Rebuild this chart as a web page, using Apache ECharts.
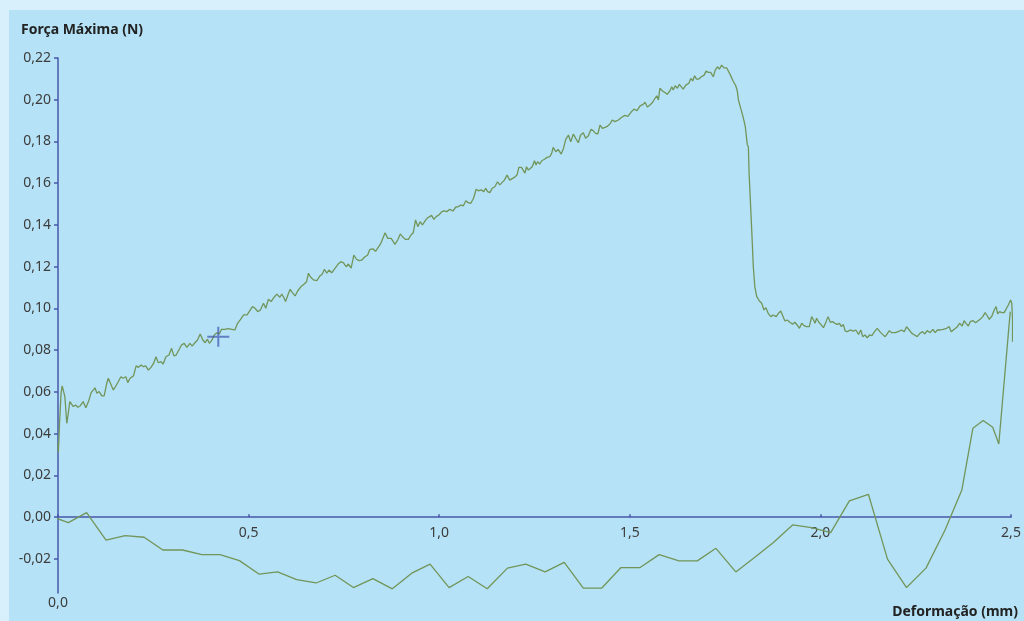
<!DOCTYPE html>
<html>
<head>
<meta charset="utf-8">
<script src="https://cdn.jsdelivr.net/npm/echarts@6/dist/echarts.min.js"></script>
<style>
html,body{margin:0;padding:0;background:#d8f0fb;}
#chart{width:1024px;height:621px;}
</style>
</head>
<body>
<div id="chart"></div>
<script>
// Axis ticks
const yTicks = [-0.02, 0, 0.02, 0.04, 0.06, 0.08, 0.10, 0.12, 0.14, 0.16, 0.18, 0.20, 0.22];
const xTicks = [0, 0.5, 1.0, 1.5, 2.0, 2.5];
const yTitle = 'Força Máxima (N)';
const xTitle = 'Deformação (mm)';

// Loading curve (deformation mm, force N)
const loadCurve = [
[0.000,0.0354],[0.001,0.031],[0.004,0.045],[0.008,0.0594],[0.011,0.0629],[0.016,0.0626],[0.018,0.0578],[0.023,0.045],[0.027,0.0498],[0.031,0.0554],[0.036,0.0562],[0.040,0.053],[0.046,0.0538],[0.052,0.0527],[0.058,0.0533],[0.066,0.0554],[0.073,0.0525],[0.080,0.0554],[0.087,0.0597],[0.092,0.059],[0.097,0.062],[0.102,0.0594],[0.108,0.0602],[0.115,0.0581],[0.121,0.0581],[0.128,0.0642],[0.132,0.0666],[0.137,0.0658],[0.145,0.061],[0.151,0.0626],[0.158,0.0649],[0.165,0.0673],[0.171,0.0666],[0.178,0.0673],[0.183,0.0645],[0.189,0.0666],[0.198,0.0677],[0.205,0.0725],[0.211,0.0718],[0.218,0.0729],[0.224,0.0721],[0.230,0.0725],[0.237,0.0705],[0.244,0.0718],[0.251,0.0738],[0.257,0.0769],[0.263,0.074],[0.270,0.0745],[0.276,0.0734],[0.283,0.0769],[0.291,0.0777],[0.298,0.0809],[0.304,0.0773],[0.310,0.0777],[0.317,0.0801],[0.324,0.0825],[0.331,0.0833],[0.338,0.0814],[0.346,0.0833],[0.352,0.082],[0.359,0.0836],[0.366,0.0849],[0.373,0.0878],[0.380,0.0849],[0.386,0.0836],[0.392,0.0853],[0.397,0.0833],[0.403,0.0846],[0.410,0.0873],[0.417,0.0884],[0.423,0.0878],[0.429,0.09],[0.438,0.09],[0.447,0.0903],[0.456,0.09],[0.464,0.0897],[0.471,0.0929],[0.478,0.0945],[0.487,0.0969],[0.496,0.0969],
[0.501,0.0974],[0.510,0.1009],[0.517,0.1001],[0.524,0.0985],[0.531,0.0993],[0.539,0.1025],[0.545,0.1001],[0.552,0.1044],[0.559,0.1033],[0.567,0.1054],[0.574,0.1069],[0.582,0.1054],[0.587,0.1069],[0.592,0.1054],[0.597,0.1033],[0.603,0.1065],[0.609,0.1092],[0.615,0.1076],[0.622,0.106],[0.629,0.1085],[0.637,0.1104],[0.646,0.1117],[0.652,0.1128],[0.657,0.1169],[0.662,0.1152],[0.670,0.1137],[0.679,0.1133],[0.687,0.1156],[0.693,0.1164],[0.699,0.1188],[0.705,0.1169],[0.711,0.1184],[0.718,0.1171],[0.727,0.1193],[0.735,0.1213],[0.742,0.1224],[0.749,0.1219],[0.756,0.12],[0.762,0.1213],[0.769,0.1193],[0.776,0.1256],[0.783,0.1236],[0.790,0.1229],[0.797,0.1232],[0.805,0.1248],[0.812,0.1255],[0.818,0.1283],[0.826,0.1286],[0.833,0.1274],[0.840,0.1293],[0.847,0.1312],[0.851,0.1304],[0.858,0.1363],[0.865,0.1336],[0.874,0.1336],[0.884,0.1307],[0.891,0.1328],[0.898,0.1357],[0.905,0.1341],[0.912,0.1331],[0.919,0.1331],[0.926,0.1352],[0.932,0.1363],[0.938,0.1424],[0.944,0.1392],[0.950,0.1416],[0.956,0.14],[0.963,0.142],[0.968,0.1432],[0.973,0.144],[0.980,0.1446],[0.986,0.1427],[0.992,0.144],[0.999,0.1448],[1.007,0.1464],[1.013,0.1468],[1.020,0.1464],
[1.028,0.1475],[1.036,0.1467],[1.043,0.1485],[1.050,0.1488],[1.057,0.1496],[1.063,0.1491],[1.070,0.1516],[1.076,0.1507],[1.083,0.1504],[1.090,0.1528],[1.097,0.1571],[1.103,0.1564],[1.110,0.1568],[1.117,0.156],[1.122,0.1576],[1.127,0.156],[1.133,0.1555],[1.139,0.1576],[1.146,0.1583],[1.153,0.1607],[1.159,0.1592],[1.164,0.1583],[1.171,0.1615],[1.178,0.1639],[1.185,0.1615],[1.190,0.1612],[1.197,0.1628],[1.204,0.1639],[1.209,0.1676],[1.216,0.1676],[1.221,0.1671],[1.225,0.1648],[1.229,0.1679],[1.234,0.1663],[1.238,0.1655],[1.244,0.1679],[1.250,0.1708],[1.254,0.1687],[1.258,0.1703],[1.264,0.1692],[1.269,0.1708],[1.276,0.1715],[1.283,0.1724],[1.290,0.1727],[1.295,0.1743],[1.299,0.1772],[1.306,0.1751],[1.312,0.1762],[1.320,0.174],[1.326,0.1767],[1.332,0.181],[1.339,0.1831],[1.345,0.1799],[1.352,0.1836],[1.358,0.1815],[1.365,0.1794],[1.371,0.1831],[1.378,0.1842],[1.384,0.1815],[1.391,0.1826],[1.398,0.1858],[1.404,0.1852],[1.410,0.1839],[1.416,0.1836],[1.422,0.1879],[1.428,0.1863],[1.435,0.1868],[1.442,0.1874],[1.449,0.1887],[1.454,0.1903],[1.461,0.1895],[1.470,0.1903],
[1.478,0.1915],[1.487,0.1925],[1.495,0.1920],[1.503,0.1940],[1.511,0.1955],[1.519,0.1948],
[1.527,0.1971],[1.535,0.1978],[1.540,0.1988],[1.546,0.1965],[1.553,0.1975],[1.560,0.1988],[1.566,0.2007],[1.571,0.2019],[1.575,0.1999],[1.579,0.2055],[1.586,0.2042],[1.592,0.2035],[1.598,0.2026],[1.605,0.2042],[1.610,0.2062],[1.614,0.2047],[1.619,0.2067],[1.625,0.2055],[1.630,0.2074],[1.635,0.2067],[1.640,0.2051],[1.647,0.207],[1.655,0.2079],[1.660,0.2102],[1.665,0.209],[1.670,0.2115],[1.675,0.2099],[1.681,0.2099],[1.688,0.211],[1.695,0.2118],[1.700,0.2137],[1.706,0.2131],[1.712,0.2131],[1.719,0.211],[1.724,0.2142],[1.730,0.2158],[1.735,0.2147],[1.741,0.2166],[1.747,0.2153],[1.754,0.2153],[1.758,0.215],[1.764,0.2118],[1.771,0.209],[1.778,0.2067],[1.782,0.2042],[1.785,0.1999],[1.791,0.1959],[1.797,0.1919],[1.803,0.1871],[1.808,0.1786],[1.811,0.1775],[1.813,0.1647],[1.817,0.1488],[1.821,0.1328],[1.824,0.12],[1.828,0.1104],
[1.833,0.1057],[1.840,0.1036],[1.846,0.1025],[1.852,0.0993],[1.857,0.1004],[1.863,0.0977],[1.870,0.0961],[1.876,0.0969],[1.884,0.0961],[1.890,0.0977],[1.896,0.0988],[1.901,0.0985],[1.907,0.094],[1.913,0.0945],[1.920,0.0934],[1.927,0.0924],[1.933,0.0934],[1.939,0.0921],[1.945,0.0905],[1.951,0.0929],[1.957,0.0918],[1.964,0.0913],[1.971,0.0913],[1.977,0.0961],[1.982,0.0945],[1.986,0.0929],[1.990,0.0953],[1.996,0.0934],[2.001,0.0924],[2.008,0.0908],[2.015,0.0937],[2.020,0.0961],[2.026,0.0934],[2.032,0.0937],[2.038,0.0929],[2.044,0.0924],[2.050,0.0929],[2.055,0.0913],[2.060,0.0924],[2.065,0.0892],[2.071,0.0889],[2.078,0.0897],[2.086,0.0892],[2.093,0.0897],[2.100,0.0876],[2.106,0.0897],[2.111,0.0865],[2.117,0.0873],[2.123,0.086],[2.129,0.0873],[2.135,0.087],[2.142,0.0889],[2.149,0.0905],[2.156,0.0889],[2.163,0.0876],[2.170,0.0865],
[2.181,0.0894],[2.187,0.0884],[2.196,0.0884],[2.204,0.0889],[2.213,0.0897],[2.220,0.0889],[2.226,0.0913],[2.233,0.0897],[2.240,0.0881],[2.247,0.0873],[2.254,0.0865],[2.261,0.0881],[2.268,0.0889],[2.274,0.0878],[2.280,0.0894],[2.288,0.0884],[2.295,0.09],[2.301,0.0884],[2.307,0.0897],[2.314,0.0897],[2.322,0.09],[2.331,0.0905],[2.338,0.0913],[2.343,0.0889],[2.351,0.09],[2.358,0.091],[2.365,0.0929],[2.372,0.0916],[2.377,0.0942],[2.382,0.0929],[2.388,0.0916],[2.393,0.0937],[2.400,0.0942],[2.407,0.0932],[2.412,0.0929],[2.419,0.0948],[2.426,0.0961],[2.432,0.098],[2.438,0.0964],[2.443,0.0948],[2.450,0.0964],[2.456,0.0993],[2.461,0.1009],[2.465,0.0974],[2.470,0.0985],[2.476,0.098],[2.482,0.098],[2.487,0.0985],[2.493,0.1017],[2.499,0.1041],[2.502,0.1025],[2.504,0.0948],[2.504,0.0841]
];

// Return curve (drawn from right to left)
const returnCurve = [
[2.498,0.0985],[2.468,0.0351],[2.452,0.0431],[2.427,0.0463],[2.400,0.0426],[2.371,0.013],[2.327,-0.0061],[2.277,-0.0244],[2.226,-0.0337],[2.176,-0.0201],[2.126,0.011],[2.076,0.0078],[2.027,-0.0074],[1.977,-0.005],[1.927,-0.0037],[1.876,-0.0122],[1.828,-0.0192],[1.778,-0.0262],[1.726,-0.0149],[1.677,-0.0209],[1.629,-0.0209],[1.577,-0.0179],[1.527,-0.0241],[1.477,-0.0241],[1.426,-0.034],[1.378,-0.034],[1.328,-0.0216],[1.278,-0.0262],[1.227,-0.0225],[1.179,-0.0244],[1.126,-0.0343],[1.076,-0.0284],[1.026,-0.0337],[0.976,-0.0225],[0.928,-0.0268],[0.877,-0.0343],[0.826,-0.0294],[0.775,-0.0337],[0.727,-0.0278],[0.677,-0.0315],[0.626,-0.0299],[0.576,-0.0262],[0.528,-0.0273],[0.476,-0.0208],[0.425,-0.0179],[0.377,-0.0179],[0.327,-0.0157],[0.275,-0.0157],[0.226,-0.0096],[0.176,-0.0088],[0.126,-0.011],[0.075,0.0022],[0.027,-0.0026],[-0.021,0.0006],[-0.091,-0.0048]
];

// Cursor marker
const cursorPoint = [[0.4205, 0.0865]];

const axisBlue = '#4858aa';
const lineGreen = '#72955a';
const labelColor = '#3c3c3c';
const fmtY = v => v.toFixed(2).replace('.', ',');
const fmtX = v => v.toFixed(1).replace('.', ',');

const chart = echarts.init(document.getElementById('chart'), null, {renderer: 'canvas'});
chart.setOption({
  backgroundColor: '#d8f0fb',
  animation: false,
  title: [
    {text: yTitle, left: 21, top: 23, padding: 0,
     textStyle: {fontFamily: 'Noto Sans', fontWeight: 'bold', fontSize: 14, color: '#222'}},
    {text: xTitle, right: 6, top: 605, padding: 0,
     textStyle: {fontFamily: 'Noto Sans', fontWeight: 'bold', fontSize: 14, color: '#222'}}
  ],
  grid: {left: 58, right: 13, top: 58, bottom: 28, containLabel: false},
  xAxis: {
    type: 'value', min: 0, max: 2.5, interval: 0.5, position: 'bottom', offset: 0,
    axisLine: {show: true, onZero: false, lineStyle: {color: axisBlue, width: 1.5}},
    axisTick: {show: true, inside: true, length: 3, lineStyle: {color: axisBlue, width: 1.5}},
    axisLabel: {formatter: v => (v === 0 ? '' : fmtX(v)), color: labelColor, fontFamily: 'Noto Sans', fontSize: 14, margin: 9},
    splitLine: {show: false}
  },
  yAxis: {
    type: 'value', min: -0.0363, max: 0.22,
    axisLine: {show: true, onZero: false, lineStyle: {color: axisBlue, width: 1.5}},
    axisTick: {show: true, customValues: yTicks, length: 4, lineStyle: {color: axisBlue, width: 1.5}},
    axisLabel: {customValues: yTicks, formatter: v => fmtY(v), color: labelColor, fontFamily: 'Noto Sans', fontSize: 14, margin: 7},
    splitLine: {show: false}
  },
  series: [{
    type: 'line', data: loadCurve, showSymbol: false, clip: false,
    lineStyle: {color: lineGreen, width: 1.3}
  }, {
    type: 'line', data: returnCurve, showSymbol: false, clip: false,
    lineStyle: {color: lineGreen, width: 1.3}
  }, {
    type: 'scatter', data: cursorPoint, z: 5,
    symbol: 'path://M0,9H22V11H0Z M10,0H12V20H10Z',
    symbolSize: [22, 20],
    itemStyle: {color: 'rgba(60,80,175,0.85)'}
  }]
});

// Move the x axis up to the y = 0 line (offset from the library's own scale),
// and add the panel background and origin label under the y axis.
const gridRect = chart.getModel().getComponent('grid', 0).coordinateSystem.getRect();
const zeroY = chart.convertToPixel({yAxisIndex: 0}, 0);
const originX = chart.convertToPixel({xAxisIndex: 0}, xTicks[0]);
const gridBottom = gridRect.y + gridRect.height;
chart.setOption({
  xAxis: {offset: zeroY - gridBottom},
  graphic: [{
    type: 'rect', z: -10, silent: true,
    shape: {x: 9, y: 10, width: 1015, height: 611},
    style: {fill: '#b5e2f6'}
  }, {
    type: 'text', silent: true,
    x: originX, y: gridBottom + 3,
    style: {text: fmtX(xTicks[0]), fill: labelColor, font: '14px "Noto Sans"', align: 'center', verticalAlign: 'top'}
  }]
});
</script>
</body>
</html>
